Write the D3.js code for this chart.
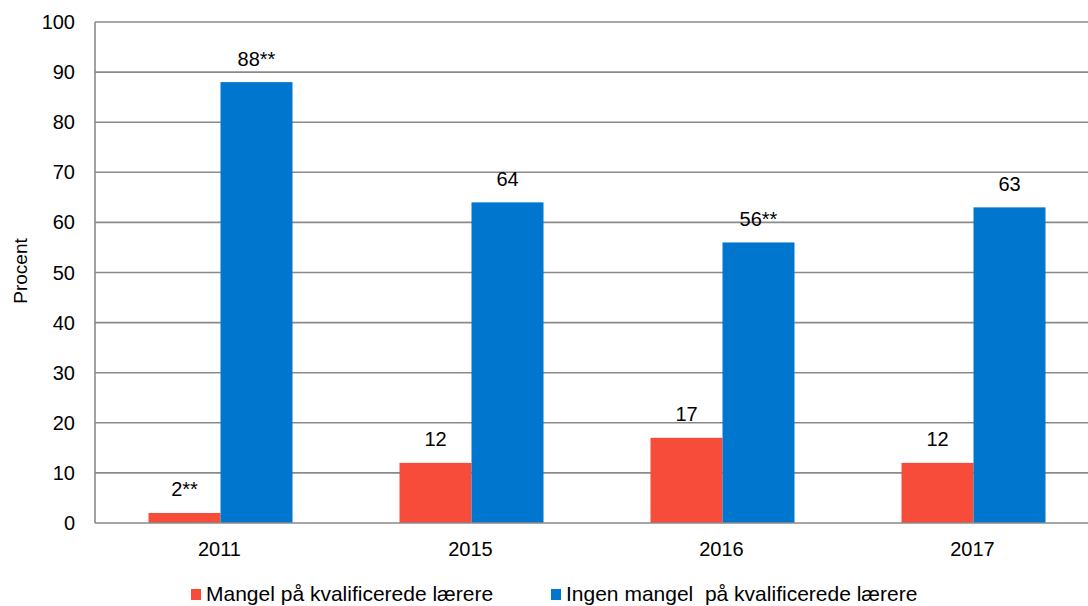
<!DOCTYPE html>
<html><head><meta charset="utf-8">
<script src="https://cdn.jsdelivr.net/npm/d3@7"></script>
<style>body{margin:0;background:#fff;}svg{display:block;font-family:"Liberation Sans",Arial,sans-serif;}</style>
</head><body>
<svg id="c" width="1088" height="606"></svg>
<script>
const categories = ["2011","2015","2016","2017"];
const seriesNames = ["Mangel på kvalificerede lærere","Ingen mangel  på kvalificerede lærere"];
const mangel = [2,12,17,12];
const ingen = [88,64,56,63];
const mangelLabels = ["2**","12","17","12"];
const ingenLabels = ["88**","64","56**","63"];
const yTicks = [0,10,20,30,40,50,60,70,80,90,100];
const colors = ["#F84C3A","#0076CE"];

(function(){
const svg = d3.select("#c");
const mLeft = 95, mTop = 22, mBottom = 523, mRight = 1099;
const x = d3.scaleBand().domain(categories).range([mLeft, mRight]).padding(0);
const y = d3.scaleLinear().domain([0,100]).range([mBottom, mTop]);
const barW = 72;

svg.append("g").selectAll("line").data(yTicks.filter(t=>t>0)).join("line")
  .attr("x1", mLeft).attr("x2", 1088).attr("y1", d=>y(d)).attr("y2", d=>y(d))
  .attr("stroke", "#8a8a8a").attr("stroke-width", 1.6);

const series = [mangel, ingen];
const labels = [mangelLabels, ingenLabels];
series.forEach((vals, si) => {
  const g = svg.append("g");
  g.selectAll("rect").data(categories).join("rect")
    .attr("x", (d)=> x(d) + x.bandwidth()/2 - barW + si*barW)
    .attr("width", barW)
    .attr("y", (d,i)=> y(vals[i]))
    .attr("height", (d,i)=> y(0)-y(vals[i]))
    .attr("fill", colors[si]);
  g.selectAll("text").data(categories).join("text")
    .attr("x", (d)=> x(d) + x.bandwidth()/2 - barW/2 + si*barW)
    .attr("y", (d,i)=> y(vals[i]) - 16.5)
    .attr("text-anchor","middle").attr("font-size", 20).attr("fill","#000")
    .text((d,i)=> labels[si][i]);
});

svg.append("line").attr("x1", mLeft).attr("x2", mLeft).attr("y1", mTop).attr("y2", mBottom)
  .attr("stroke", "#8a8a8a").attr("stroke-width", 1.6);
svg.append("line").attr("x1", mLeft).attr("x2", 1088).attr("y1", mBottom).attr("y2", mBottom)
  .attr("stroke", "#8a8a8a").attr("stroke-width", 1.6);

svg.append("g").selectAll("text").data(yTicks).join("text")
  .attr("x", 75).attr("y", d=>y(d)).attr("dy","0.35em")
  .attr("text-anchor","end").attr("font-size", 20).text(d=>d);

svg.append("g").selectAll("text").data(categories).join("text")
  .attr("x", d=> x(d)+x.bandwidth()/2 - 1).attr("y", 556)
  .attr("text-anchor","middle").attr("font-size", 20).text(d=>d);

svg.append("text").attr("transform","translate(27,271) rotate(-90)")
  .attr("text-anchor","middle").attr("font-size", 19).text("Procent");

const legX = [191, 551];
seriesNames.forEach((n,i)=>{
  svg.append("rect").attr("x", legX[i]).attr("y", 589).attr("width", 10).attr("height", 11).attr("fill", colors[i]);
  svg.append("text").attr("x", legX[i]+15).attr("y", 601).attr("font-size", 21).attr("xml:space","preserve").style("white-space","pre").text(n);
});
})();
</script>
</body></html>
